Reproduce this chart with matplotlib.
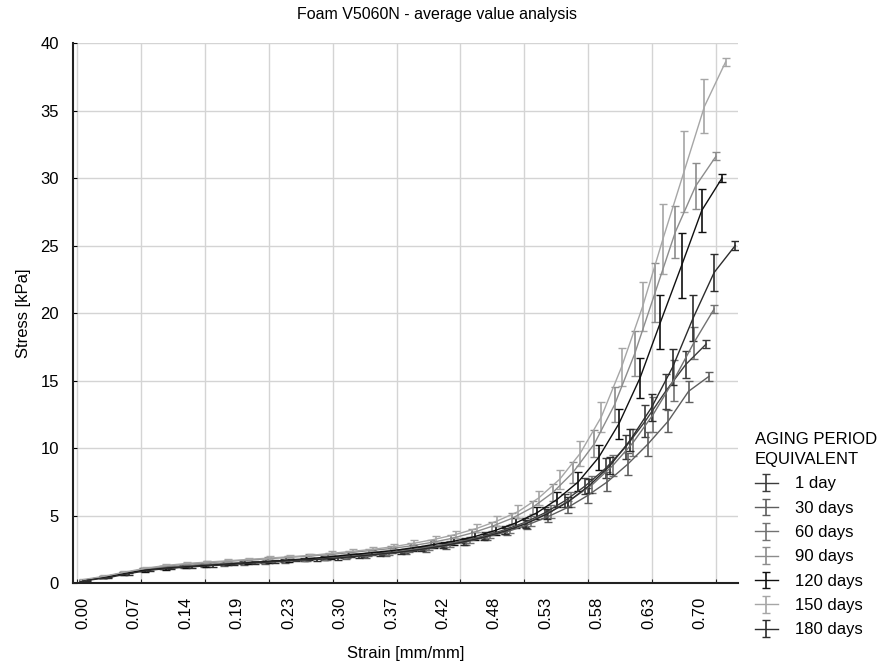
import matplotlib
matplotlib.use("Agg")
import matplotlib.pyplot as plt

plt.rcParams['font.family'] = ['Liberation Sans', 'DejaVu Sans']

# aging period groups (legend order)
groups = ['1 day', '30 days', '60 days', '90 days', '120 days', '150 days', '180 days']
colors = ['#3c3c3c', '#5e5e5e', '#727272', '#8c8c8c', '#101010', '#a6a6a6', '#2c2c2c']

x_1 = [0.000, 0.023, 0.046, 0.068, 0.091, 0.114, 0.137, 0.160, 0.182, 0.205, 0.228, 0.251, 0.274, 0.296, 0.319, 0.342,
       0.365, 0.388, 0.410, 0.433, 0.456, 0.479, 0.502, 0.524, 0.547, 0.570, 0.593, 0.616, 0.638, 0.661, 0.684, 0.707]
y_1 = [0.2, 0.45, 0.75, 1.0, 1.15, 1.25, 1.35, 1.4, 1.5, 1.55, 1.65, 1.75, 1.85, 1.95, 2.05, 2.2,
       2.4, 2.6, 2.85, 3.15, 3.5, 3.95, 4.5, 5.2, 6.1, 7.2, 8.5, 10.1, 12.0, 14.2, 16.2, 17.7]
e_1 = [0.05, 0.05, 0.07, 0.08, 0.08, 0.1, 0.1, 0.1, 0.1, 0.1, 0.1, 0.1, 0.12, 0.12, 0.13, 0.14,
       0.15, 0.17, 0.2, 0.22, 0.25, 0.3, 0.35, 0.4, 0.5, 0.6, 0.75, 0.9, 1.2, 1.3, 1.0, 0.3]

x_30 = [0.000, 0.023, 0.046, 0.069, 0.092, 0.115, 0.137, 0.160, 0.183, 0.206, 0.229, 0.252, 0.275, 0.298, 0.321, 0.344,
        0.366, 0.389, 0.412, 0.435, 0.458, 0.481, 0.504, 0.527, 0.550, 0.573, 0.595, 0.618, 0.641, 0.664, 0.687, 0.710]
y_30 = [0.2, 0.4, 0.7, 0.95, 1.1, 1.2, 1.3, 1.35, 1.45, 1.5, 1.6, 1.7, 1.8, 1.9, 2.0, 2.15,
        2.3, 2.5, 2.75, 3.05, 3.4, 3.8, 4.3, 4.9, 5.6, 6.5, 7.5, 8.8, 10.3, 12.0, 14.2, 15.3]
e_30 = [0.05, 0.05, 0.07, 0.08, 0.08, 0.1, 0.1, 0.1, 0.1, 0.1, 0.1, 0.1, 0.12, 0.12, 0.13, 0.14,
        0.15, 0.17, 0.2, 0.22, 0.25, 0.28, 0.32, 0.4, 0.45, 0.55, 0.7, 0.8, 0.9, 0.8, 0.8, 0.3]

x_60 = [0.000, 0.023, 0.046, 0.069, 0.092, 0.116, 0.139, 0.162, 0.185, 0.208, 0.231, 0.254, 0.277, 0.300, 0.323, 0.347,
        0.370, 0.393, 0.416, 0.439, 0.462, 0.485, 0.508, 0.531, 0.554, 0.578, 0.601, 0.624, 0.647, 0.670, 0.693, 0.716]
y_60 = [0.2, 0.45, 0.75, 1.0, 1.15, 1.25, 1.35, 1.45, 1.5, 1.6, 1.65, 1.75, 1.85, 1.95, 2.1, 2.25,
        2.45, 2.65, 2.9, 3.2, 3.55, 4.0, 4.6, 5.3, 6.2, 7.3, 8.7, 10.4, 12.5, 15.0, 17.8, 20.3]
e_60 = [0.05, 0.05, 0.07, 0.08, 0.08, 0.1, 0.1, 0.1, 0.1, 0.1, 0.1, 0.1, 0.12, 0.12, 0.13, 0.14,
        0.15, 0.17, 0.2, 0.22, 0.25, 0.3, 0.35, 0.45, 0.55, 0.65, 0.8, 1.0, 1.3, 1.5, 1.2, 0.3]

x_90 = [0.002, 0.025, 0.048, 0.071, 0.094, 0.118, 0.141, 0.164, 0.187, 0.210, 0.233, 0.256, 0.279, 0.302, 0.325, 0.349,
        0.372, 0.395, 0.418, 0.441, 0.464, 0.487, 0.510, 0.533, 0.556, 0.580, 0.603, 0.626, 0.649, 0.672, 0.695, 0.718]
y_90 = [0.2, 0.45, 0.75, 1.05, 1.25, 1.4, 1.5, 1.6, 1.7, 1.8, 1.9, 2.0, 2.1, 2.25, 2.4, 2.55,
        2.75, 3.0, 3.3, 3.7, 4.2, 4.8, 5.6, 6.7, 8.2, 10.3, 13.2, 17.0, 21.5, 26.0, 29.4, 31.6]
e_90 = [0.05, 0.05, 0.07, 0.08, 0.1, 0.1, 0.1, 0.1, 0.1, 0.1, 0.12, 0.12, 0.13, 0.14, 0.15, 0.16,
        0.18, 0.2, 0.25, 0.28, 0.35, 0.4, 0.5, 0.6, 0.8, 1.0, 1.3, 1.7, 2.2, 1.9, 1.7, 0.3]

x_120 = [0.000, 0.023, 0.047, 0.070, 0.094, 0.117, 0.140, 0.164, 0.187, 0.211, 0.234, 0.257, 0.281, 0.304, 0.328, 0.351,
         0.374, 0.398, 0.421, 0.445, 0.468, 0.491, 0.515, 0.538, 0.562, 0.585, 0.608, 0.632, 0.655, 0.679, 0.702, 0.725]
y_120 = [0.2, 0.4, 0.7, 0.95, 1.1, 1.2, 1.3, 1.4, 1.5, 1.6, 1.7, 1.8, 1.95, 2.1, 2.25, 2.4,
         2.6, 2.85, 3.1, 3.45, 3.9, 4.45, 5.2, 6.2, 7.5, 9.3, 11.8, 15.2, 19.3, 23.5, 27.6, 30.0]
e_120 = [0.05, 0.06, 0.08, 0.1, 0.1, 0.1, 0.1, 0.1, 0.1, 0.12, 0.12, 0.12, 0.14, 0.14, 0.16, 0.18,
         0.2, 0.22, 0.25, 0.3, 0.35, 0.4, 0.45, 0.55, 0.7, 0.9, 1.1, 1.5, 2.0, 2.4, 1.6, 0.3]

x_150 = [0.000, 0.024, 0.047, 0.071, 0.094, 0.118, 0.141, 0.165, 0.188, 0.212, 0.235, 0.259, 0.282, 0.306, 0.329, 0.353,
         0.376, 0.400, 0.423, 0.447, 0.470, 0.494, 0.517, 0.541, 0.564, 0.588, 0.611, 0.635, 0.658, 0.682, 0.705, 0.729]
y_150 = [0.25, 0.5, 0.8, 1.1, 1.3, 1.45, 1.55, 1.65, 1.75, 1.85, 1.95, 2.05, 2.2, 2.35, 2.5, 2.7,
         2.95, 3.25, 3.6, 4.05, 4.6, 5.3, 6.3, 7.7, 9.6, 12.3, 16.0, 20.5, 25.5, 30.5, 35.3, 38.6]
e_150 = [0.05, 0.06, 0.08, 0.08, 0.1, 0.1, 0.1, 0.1, 0.1, 0.12, 0.12, 0.12, 0.14, 0.15, 0.15, 0.16,
         0.2, 0.22, 0.25, 0.3, 0.35, 0.45, 0.55, 0.7, 0.9, 1.1, 1.4, 1.8, 2.6, 3.0, 2.0, 0.3]

x_180 = [0.005, 0.029, 0.052, 0.076, 0.100, 0.124, 0.147, 0.171, 0.195, 0.218, 0.242, 0.266, 0.289, 0.313, 0.337, 0.361,
         0.384, 0.408, 0.432, 0.455, 0.479, 0.503, 0.526, 0.550, 0.574, 0.598, 0.621, 0.645, 0.669, 0.692, 0.716, 0.740]
y_180 = [0.2, 0.4, 0.7, 0.95, 1.1, 1.2, 1.3, 1.4, 1.5, 1.6, 1.7, 1.75, 1.85, 2.0, 2.15, 2.3,
         2.5, 2.75, 3.05, 3.4, 3.85, 4.4, 5.1, 6.0, 7.2, 8.7, 10.6, 13.0, 16.0, 19.6, 23.0, 25.0]
e_180 = [0.05, 0.05, 0.07, 0.08, 0.08, 0.1, 0.1, 0.1, 0.1, 0.1, 0.1, 0.1, 0.12, 0.12, 0.13, 0.14,
         0.15, 0.18, 0.2, 0.22, 0.25, 0.3, 0.35, 0.4, 0.5, 0.6, 0.8, 1.0, 1.3, 1.7, 1.4, 0.3]

xs = [x_1, x_30, x_60, x_90, x_120, x_150, x_180]
ys = [y_1, y_30, y_60, y_90, y_120, y_150, y_180]
es = [e_1, e_30, e_60, e_90, e_120, e_150, e_180]

strain_labels = ['0.00', '0.07', '0.14', '0.19', '0.23', '0.30', '0.37', '0.42', '0.48', '0.53', '0.58', '0.63', '0.70']

fig = plt.figure(figsize=(8.91, 6.66), dpi=100)
ax = fig.add_axes([0.0819, 0.1246, 0.7464, 0.8108])

for name, c, x, y, e in zip(groups, colors, xs, ys, es):
    ax.errorbar(x, y, yerr=e, color=c, lw=1.0, elinewidth=1.2, capsize=3, capthick=1.0, label=name)

# grid lines sit on their own spacing, labels on another (as in the original)
grid_x = [-0.0068 + 0.0725 * k for k in range(11)]
label_x = [i * 0.70 / 12 for i in range(len(strain_labels))]

ax.set_xlim(-0.0113, 0.7431)
ax.set_ylim(0, 40)
ax.set_xticks(grid_x)
ax.set_xticklabels([])
ax.set_xticks(label_x, minor=True)
ax.set_xticklabels(strain_labels, minor=True, rotation=90, fontsize=12)
ax.tick_params(axis='x', which='minor', length=0, pad=10)
ax.tick_params(axis='x', which='major', direction='in', length=3, color='#222222')
ax.set_yticks(range(0, 41, 5))
ax.tick_params(axis='y', direction='in', length=3, labelsize=12, pad=10)
ax.grid(True, which='major', color='#d4d4d4', lw=1.0)
ax.set_axisbelow(True)

for side in ['top', 'right']:
    ax.spines[side].set_visible(False)
for side in ['left', 'bottom']:
    ax.spines[side].set_linewidth(1.5)
    ax.spines[side].set_color('#222222')

ax.set_xlabel('Strain [mm/mm]', fontsize=12, labelpad=12)
ax.set_ylabel('Stress [kPa]', fontsize=12, labelpad=7)
fig.text(437 / 891, 1 - 14 / 666, 'Foam V5060N - average value analysis', ha='center', va='center', fontsize=11.5)

handles, names = ax.get_legend_handles_labels()
leg = fig.legend(handles, names, loc='upper left', bbox_to_anchor=(748 / 891, 1 - 425 / 666),
                 frameon=False, title='AGING PERIOD\nEQUIVALENT', fontsize=12, title_fontsize=12,
                 alignment='left', handlelength=1.4, labelspacing=0.56, handletextpad=1.0, borderaxespad=0)
leg.get_title().set_linespacing(1.45)

fig.savefig('out.png', dpi=100)
